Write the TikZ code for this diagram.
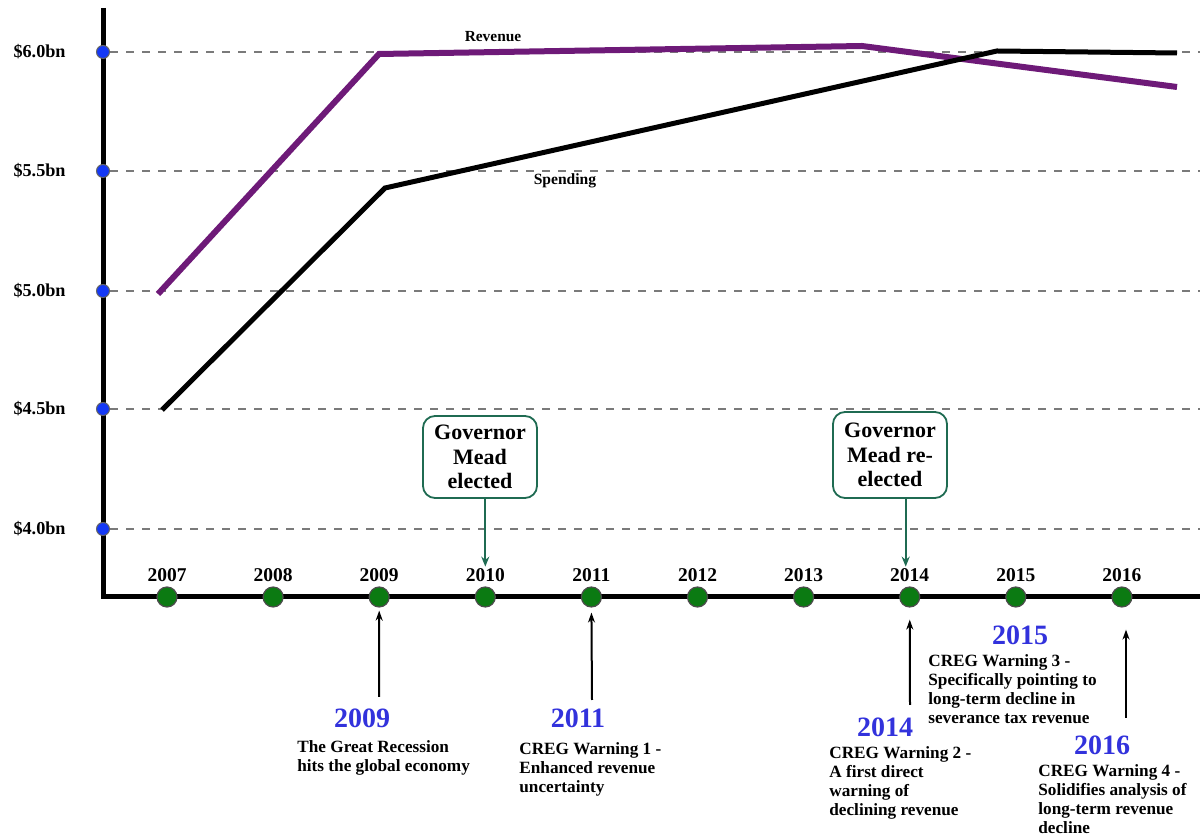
\documentclass[tikz,border=0pt]{standalone}
\usepackage{fontspec}
\setmainfont{Liberation Serif}
\usetikzlibrary{arrows.meta}
\definecolor{revpurple}{HTML}{6E1A78}
\definecolor{govgreen}{HTML}{1F6B52}
\definecolor{dotgreen}{HTML}{0B7A12}
\definecolor{tickblue}{HTML}{1438F5}
\definecolor{yrblue}{HTML}{3232DC}
\definecolor{gridgray}{HTML}{7A7A7A}
\tikzset{
  govbox/.style={draw=govgreen, line width=0.9pt, rounded corners=6pt, fill=white, align=center,
    font=\fontsize{11}{12.3}\selectfont\bfseries, minimum width=57pt, minimum height=41pt, inner sep=1pt},
  yrdot/.style={circle, fill=dotgreen, draw=black!70, line width=0.6pt, minimum size=10pt, inner sep=0pt},
  tickdot/.style={circle, fill=tickblue, draw=black!60, line width=0.5pt, minimum size=6.5pt, inner sep=0pt},
  bigyear/.style={text=yrblue, inner sep=0pt, font=\fontsize{14}{14}\selectfont\bfseries},
  notetext/.style={anchor=north west, inner sep=0pt, align=left, font=\fontsize{8.6}{9.6}\selectfont\bfseries},
  uparrow/.style={-{Stealth[length=5pt,width=3.5pt]}, line width=1pt},
  govarrow/.style={-{Stealth[length=5pt,width=4pt]}, line width=0.9pt, draw=govgreen},
}
\begin{document}
\begin{tikzpicture}[x=0.5pt, y=-0.5pt]
  \useasboundingbox (0,0) rectangle (1200,838);
  % dashed grid and value labels
  \foreach \v/\yy in {6.0/52, 5.5/171, 5.0/291, 4.5/409, 4.0/529} {
    \draw[gridgray, line width=0.7pt, dash pattern=on 4pt off 4pt] (110,\yy) -- (1200,\yy);
    \node[anchor=east, inner sep=0pt, font=\fontsize{9.1}{10}\selectfont\bfseries] (v\v) at (66,\yy) {\$\v bn};
  }
  % revenue and spending
  \draw[revpurple, line width=3pt] (158,294) -- (379,54) -- (862,46) -- (1177,87);
  \draw[black, line width=2.5pt] (162,410) -- (385,188) -- (997,51) -- (1177,53);
  \node[font=\fontsize{7.7}{9}\selectfont\bfseries, inner sep=0pt] (revlab) at (493,37) {Revenue};
  \node[font=\fontsize{7.8}{9}\selectfont\bfseries, inner sep=0pt] (spendlab) at (565,181) {Spending};
  % axes
  \draw[line width=2.5pt] (103,8) -- (103,597) -- (1200,597);
  \foreach \yy [count=\i] in {52, 171, 291, 409, 529}
    \node[tickdot] (t\i) at (103,\yy) {};
  % years on the time axis
  \foreach \yr [count=\i from 0] in {2007,...,2016} {
    \node[yrdot] (d\yr) at ({167+106.1*\i},597) {};
    \node[anchor=base, inner sep=0pt, font=\fontsize{9.75}{11}\selectfont\bfseries] (l\yr) at ({167+106.1*\i},582) {\yr};
  }
  % governor boxes
  \node[govbox] (gov1) at (480,457) {Governor\\Mead\\elected};
  \node[govbox, minimum height=43pt] (gov2) at (890,455) {Governor\\Mead re-\\elected};
  \draw[govarrow] (gov1.south -| l2010) -- ([yshift=1pt]l2010.north);
  \draw[govarrow] ([xshift=-2pt]gov2.south -| l2014) -- ([xshift=-2pt,yshift=1pt]l2014.north);
  % events below the axis
  \node[bigyear] (e2009) at (362,718) {2009};
  \node[notetext] (n2009) at (297,740) {The Great Recession\\hits the global economy};
  \node[bigyear] (e2011) at (578,718) {2011};
  \node[notetext] (n2011) at (519,742) {CREG Warning 1 -\\Enhanced revenue\\uncertainty};
  \node[bigyear] (e2015) at (1020,635) {2015};
  \node[notetext] (n2015) at (928,654) {CREG Warning 3 -\\Specifically pointing to\\long-term decline in\\severance tax revenue};
  \node[bigyear] (e2014) at (885,727) {2014};
  \node[notetext] (n2014) at (829,746) {CREG Warning 2 -\\A first direct\\warning of\\declining revenue};
  \node[bigyear] (e2016) at (1102,745) {2016};
  \node[notetext] (n2016) at (1038,764) {CREG Warning 4 -\\Solidifies analysis of\\long-term revenue\\decline};
  \coordinate (a2009) at (379,697);
  \coordinate (a2011) at (592,700);
  \coordinate (a2014) at (910,705);
  \coordinate (a2016) at (1126,718);
  \draw[uparrow, shorten >=1.5pt] (a2009) -- (d2009.south);
  \draw[uparrow, shorten >=2.5pt] (a2011) -- (d2011.south);
  \draw[uparrow, shorten >=6pt] (a2014) -- (d2014.south);
  \draw[uparrow, shorten >=11pt] (a2016) -- (d2016.south -| a2016);
\end{tikzpicture}
\end{document}
